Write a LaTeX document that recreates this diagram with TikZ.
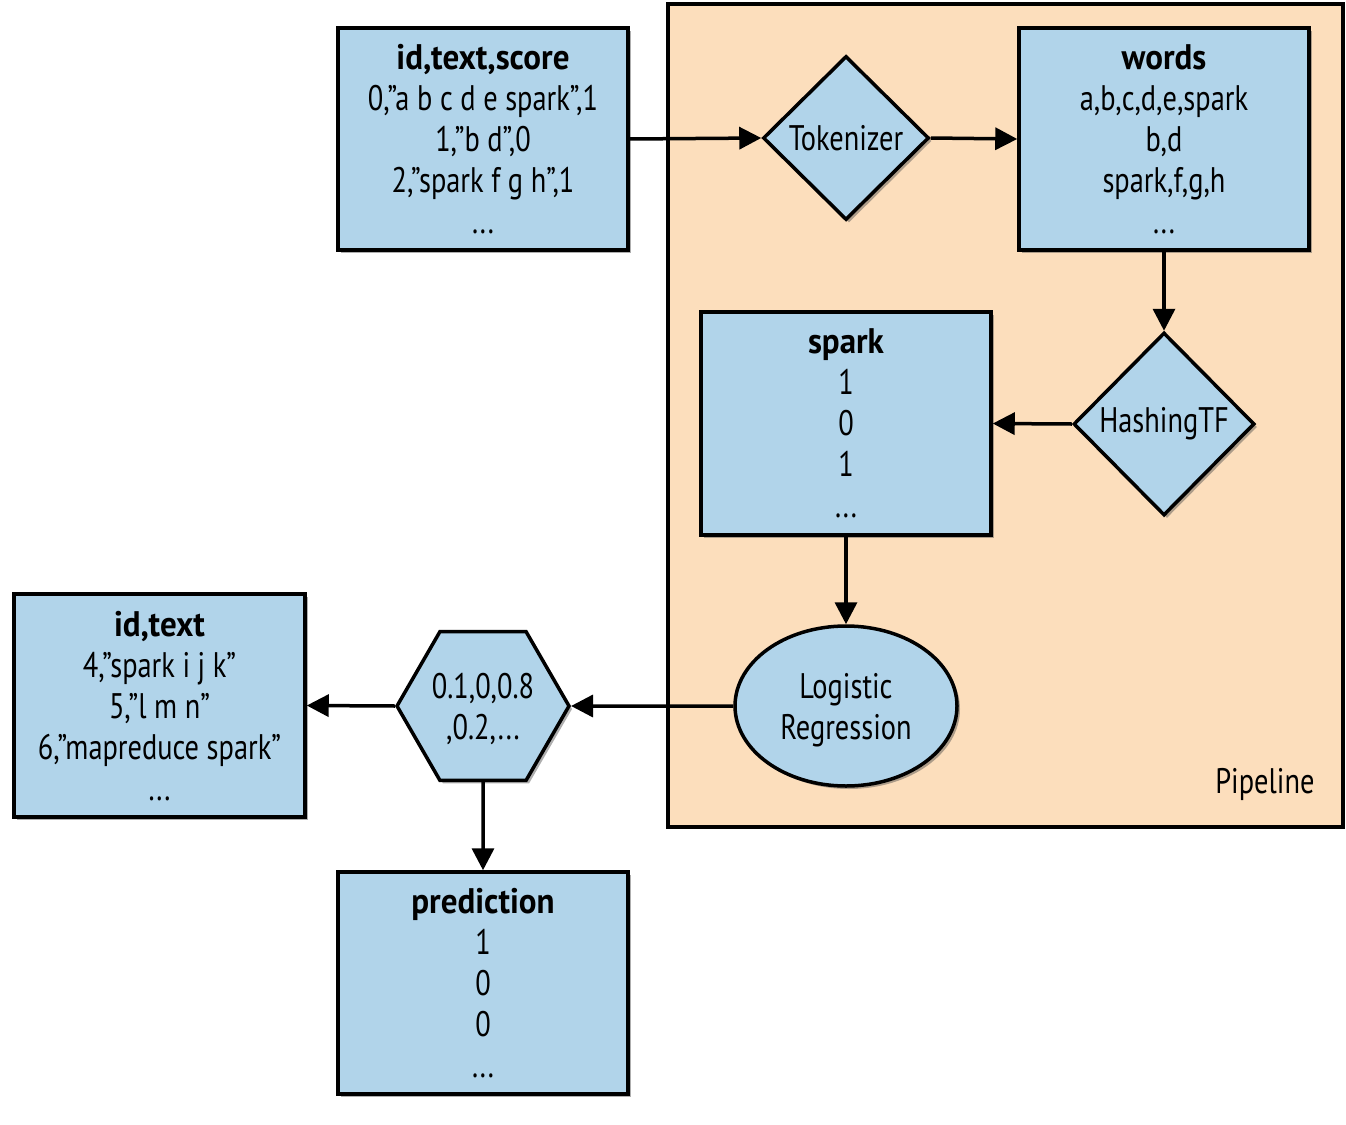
\documentclass[tikz,border=0pt]{standalone}
\usepackage{fontspec}
\setmainfont{PT Sans}[FakeStretch=0.8, BoldFeatures={FakeStretch=0.93}]
\usetikzlibrary{shapes.geometric,arrows.meta,shadows}
\definecolor{boxblue}{HTML}{B1D4EA}
\definecolor{peach}{HTML}{FCDEBC}
\begin{document}
\begin{tikzpicture}[x=1pt,y=-1pt,
  every node/.style={font=\fontsize{35.5}{41}\selectfont, align=center, text=black},
  shade/.style={drop shadow={shadow xshift=3pt,shadow yshift=-3pt,opacity=0.45,fill=black!70}},
  databox/.style={shade, draw=black, line width=3.5pt, fill=boxblue, rectangle, minimum width=290pt, minimum height=222pt, inner sep=0pt, text depth=-5pt},
  stage/.style={shade, draw=black, line width=3.5pt, fill=boxblue, diamond, inner sep=0pt},
  conn/.style={line width=3.5pt, -{Triangle[length=22pt,width=22pt]}},
]
\useasboundingbox (0,0) rectangle (1346,1124);
% pipeline frame
\node[draw=black, line width=3.5pt, fill=peach, rectangle, minimum width=675pt, minimum height=823pt, inner sep=0pt] (pipe) at (1005.5,415.5) {};
\node[anchor=base east] (pipelbl) at (1318,793) {Pipeline};

\node[databox] (train) at (483,139) {\textbf{id,text,score}\\0,”a b c d e spark”,1\\1,”b d”,0\\2,”spark f g h”,1\\...};
\node[stage, minimum width=166pt, minimum height=164pt] (tok) at (846,138) {Tokenizer};
\node[databox] (words) at (1164,139) {\textbf{words}\\a,b,c,d,e,spark\\b,d\\spark,f,g,h\\...};
\node[stage, minimum width=181pt, minimum height=183pt] (htf) at (1164,424) {HashingTF};
\node[databox, minimum height=223pt] (spark) at (846,423.5) {\textbf{spark}\\1\\0\\1\\...};
\node[shade, draw=black, line width=3.5pt, fill=boxblue, ellipse, minimum width=222pt, minimum height=160pt, inner sep=0pt, text depth=-1pt] (lr) at (846,706) {Logistic\\Regression};
\node[shade, draw=black, line width=3.5pt, fill=boxblue, regular polygon, regular polygon sides=6, minimum size=172pt, inner sep=0pt, text depth=-2pt] (hex) at (483,706) {0.1,0,0.8\\,0.2,...};
\node[databox, minimum width=291pt, minimum height=223pt] (test) at (159.5,705.5) {\textbf{id,text}\\4,”spark i j k”\\5,”l m n”\\6,”mapreduce spark”\\...};
\node[databox] (pred) at (483,983) {\textbf{prediction}\\1\\0\\0\\...};

\draw[conn] (train.east) -- (tok.west);
\draw[conn] (tok.east) -- (words.west);
\draw[conn] (words.south) -- (htf.north);
\draw[conn] (htf.west) -- (spark.east);
\draw[conn] (spark.south) -- (lr.north);
\draw[conn] (lr.west) -- (hex.east);
\draw[conn] (hex.west) -- (test.east);
\draw[conn] (hex.south) -- (pred.north);
\end{tikzpicture}
\end{document}
